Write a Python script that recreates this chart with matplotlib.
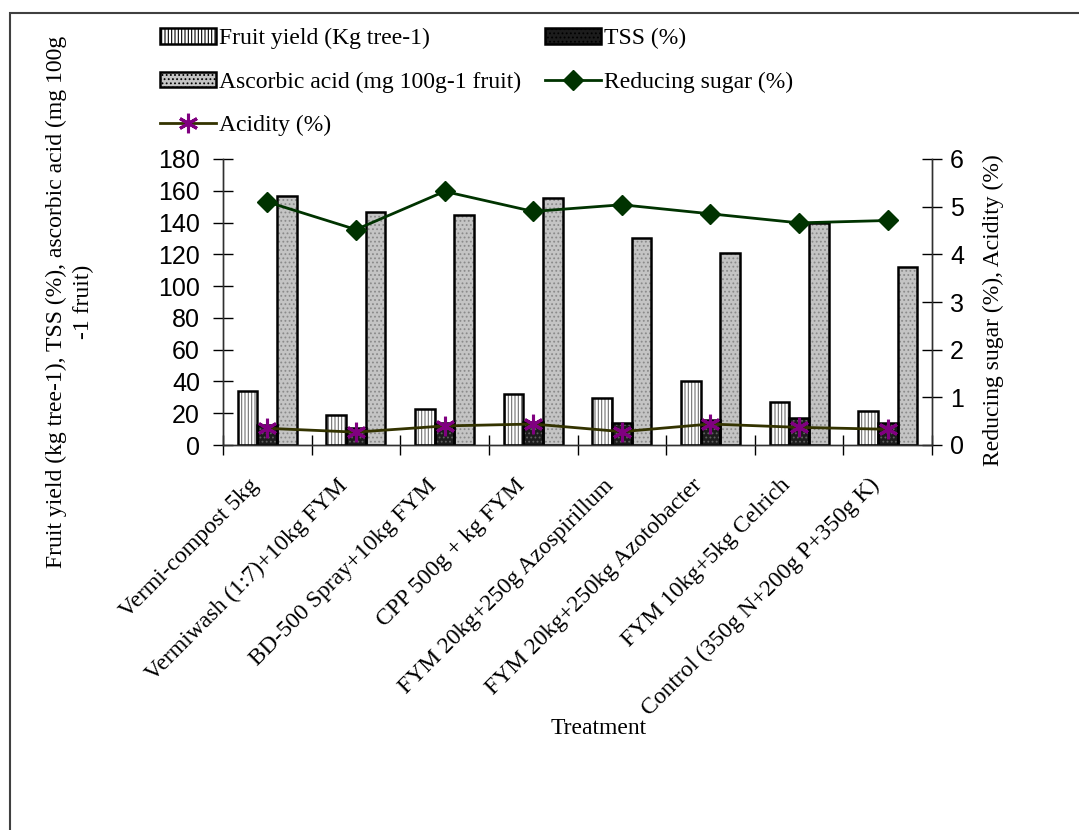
import numpy as np
import matplotlib
matplotlib.use("Agg")
import matplotlib.pyplot as plt
from matplotlib.patches import Patch, Rectangle
from matplotlib.lines import Line2D
from matplotlib.transforms import ScaledTranslation

treatments = [
    "Vermi-compost 5kg",
    "Vermiwash (1:7)+10kg FYM",
    "BD-500 Spray+10kg FYM",
    "CPP 500g + kg FYM",
    "FYM 20kg+250g Azospirillum",
    "FYM 20kg+250kg Azotobacter",
    "FYM 10kg+5kg Celrich",
    "Control (350g N+200g P+350g K)",
]
fruit_yield = [34.2, 18.9, 22.5, 31.9, 29.4, 40.5, 26.9, 21.4]
tss = [12.6, 10.5, 14.0, 14.7, 13.7, 15.5, 16.8, 14.0]
ascorbic = [156.7, 146.4, 144.5, 155.2, 130.4, 120.6, 140.0, 112.2]
reducing_sugar = [5.10, 4.52, 5.32, 4.90, 5.04, 4.85, 4.66, 4.71]
acidity = [0.35, 0.27, 0.40, 0.44, 0.28, 0.44, 0.37, 0.33]

SERIF = "Liberation Serif"
SANS = "Liberation Sans"
plt.rcParams["hatch.linewidth"] = 0.8

W, H = 1079, 830
fig = plt.figure(figsize=(W / 100, H / 100), dpi=100)
ax = fig.add_axes([223 / W, 1 - 445 / H, (932 - 223) / W, (445 - 159) / H])
ax2 = ax.twinx()

x = np.arange(len(treatments))
bw = 1 / 4.5

# (face, hatch colour, hatch)
styles = {
    "fy": ("white", "#707070", "|" * 5),
    "tss": ("#1c1c1c", "#606060", "...."),
    "asc": ("#c4c4c4", "#8a8a8a", "...."),
}


def hatched_bars(xs, vals, key):
    face, hc, hatch = styles[key]
    ax.bar(xs, vals, bw, color=face, edgecolor=hc, hatch=hatch, linewidth=0, zorder=2)
    ax.bar(xs, vals, bw, fill=False, edgecolor="black", linewidth=1.8, zorder=3)


hatched_bars(x - bw, fruit_yield, "fy")
hatched_bars(x, tss, "tss")
hatched_bars(x + bw, ascorbic, "asc")

ax2.plot(x, reducing_sugar, color="#003300", lw=2, marker="D", ms=10,
         mfc="#003300", mec="#003300", zorder=4)
ax2.plot(x, acidity, color="#333300", lw=2, marker=(6, 2, 0), ms=14,
         mec="#800080", mew=2.2, zorder=4)

ax.set_xlim(-0.5, len(treatments) - 0.5)
ax.set_ylim(0, 180)
ax.set_yticks(np.arange(0, 181, 20))
ax2.set_ylim(0, 6)
ax2.set_yticks(np.arange(0, 7, 1))

# category boundaries carry the ticks, centres carry the labels
ax.set_xticks(np.arange(-0.5, len(treatments)), labels=[""] * (len(treatments) + 1))
ax.set_xticks(x, minor=True)
ax.set_xticklabels(treatments, minor=True, rotation=45, ha="right", va="center",
                   rotation_mode="anchor", fontfamily=SERIF, fontsize=17)
ax.tick_params(axis="x", which="minor", length=0, pad=16)
ax.tick_params(axis="x", which="major", direction="inout", length=15, width=1)
ax.tick_params(axis="y", direction="inout", length=15, width=1, pad=9, labelsize=18)
ax2.tick_params(axis="y", direction="inout", length=15, width=1, pad=5.4, labelsize=18)
for lab in ax.get_yticklabels() + ax2.get_yticklabels():
    lab.set_fontfamily(SANS)

for a in (ax, ax2):
    a.spines["top"].set_visible(False)
    for s in ("left", "right", "bottom"):
        a.spines[s].set_color("#303030")
        a.spines[s].set_linewidth(1)
ax.patch.set_visible(False)

fig.text(70 / W, 1 - 302 / H,
         "Fruit yield (kg tree-1), TSS (%), ascorbic acid (mg 100g\n-1 fruit)",
         rotation=90, ha="center", va="center", ma="center", linespacing=1.4,
         fontfamily=SERIF, fontsize=17)
fig.text(993 / W, 1 - 310 / H, "Reducing sugar (%), Acidity (%)", rotation=90,
         ha="center", va="center", fontfamily=SERIF, fontsize=17)
fig.text(599 / W, 1 - 728 / H, "Treatment", ha="center", va="center",
         fontfamily=SERIF, fontsize=17)


def legend_patch(key):
    face, hc, hatch = styles[key]
    return Patch(facecolor=face, edgecolor="black", hatch=hatch, linewidth=1.8)


h_fy = legend_patch("fy")
h_tss = legend_patch("tss")
h_asc = legend_patch("asc")
h_rs = Line2D([], [], color="#003300", lw=2, marker="D", ms=10, mfc="#003300", mec="#003300")
h_ac = Line2D([], [], color="#333300", lw=2, marker=(6, 2, 0), ms=14, mec="#800080", mew=2.2)

handles = [h_fy, h_asc, h_ac, h_tss, h_rs]
labels = ["Fruit yield (Kg tree-1)", "Ascorbic acid (mg 100g-1 fruit)", "Acidity (%)",
          "TSS (%)", "Reducing sugar (%)"]
fig.legend(handles, labels, ncol=2, loc="upper left",
           bbox_to_anchor=(160 / W, 1 - 28 / H), frameon=False,
           prop={"family": SERIF, "size": 17}, borderpad=0, borderaxespad=0,
           handlelength=2.37, handleheight=0.62, handletextpad=0.13,
           columnspacing=1.0, labelspacing=0.94)

# shift the slanted category labels to where the reference puts them
shift = ScaledTranslation(-11.5 / 100, -15 / 100, fig.dpi_scale_trans)
for lab in ax.get_xticklabels(minor=True):
    lab.set_transform(lab.get_transform() + shift)

# outer frame (left and top edges visible)
fig.add_artist(Rectangle((10 / W, -0.2), 2, 1.2 - 13 / H, transform=fig.transFigure,
                         fill=False, edgecolor="#404040", lw=1.5))

fig.savefig("out.png", dpi=100)
